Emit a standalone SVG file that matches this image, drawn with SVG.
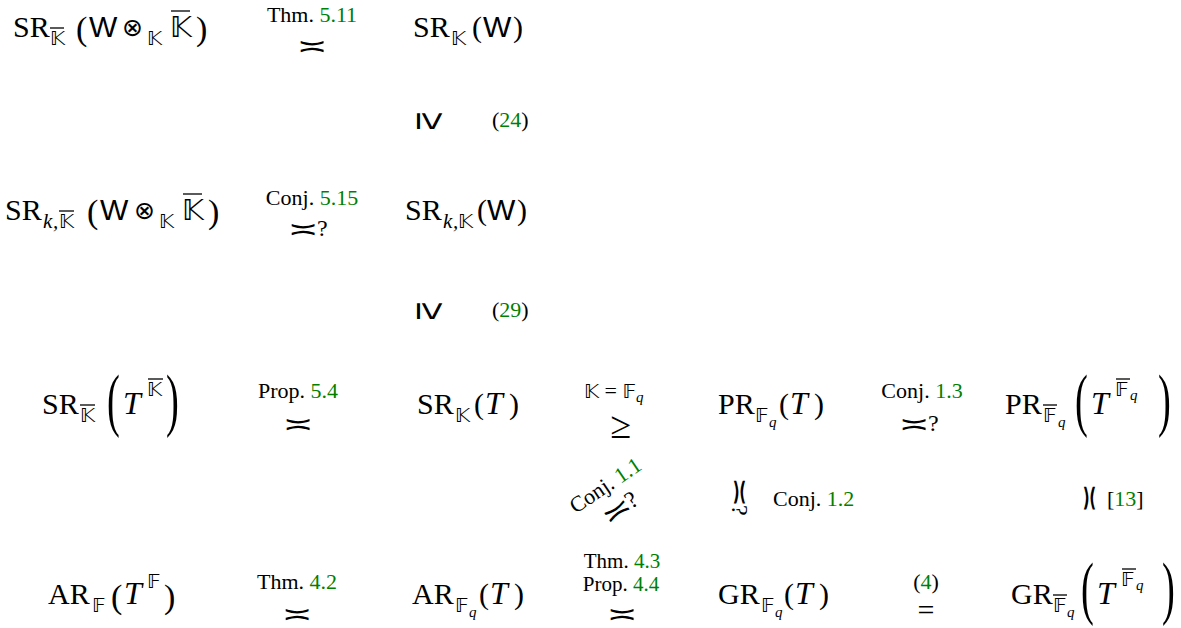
<svg xmlns="http://www.w3.org/2000/svg" width="1181" height="628" viewBox="0 0 1181 628">
<style>
text{fill:#000}
.m{font-family:"Liberation Serif",serif;font-size:30px}
.sf{font-family:"Liberation Sans",sans-serif;font-size:30px}
.bb{font-family:"DejaVu Sans",sans-serif;font-size:29px}
.sb{font-family:"DejaVu Sans",sans-serif;font-size:20px}
.si{font-family:"Liberation Serif",serif;font-size:21px;font-style:italic}
.qq{font-family:"Liberation Serif",serif;font-size:15px;font-style:italic}
.it{font-style:italic;font-size:32px}
.bp{font-family:"Liberation Serif",serif;font-size:70px}
.mp{font-family:"Liberation Serif",serif;font-size:34px}
.lab{font-family:"Liberation Serif",serif;font-size:22px}
.ref{font-family:"Liberation Serif",serif;font-size:22px}
.g{fill:#008000}
.rel{font-family:"DejaVu Sans",sans-serif;font-size:27px}
.geq{font-family:"Liberation Sans",sans-serif;font-size:42px}
.q{font-family:"Liberation Serif",serif;font-size:24px}
line{stroke:#000;stroke-width:1.3}
</style>
<defs>
<g id="asy"><text class="rel" text-anchor="middle" transform="scale(1.35,1)">≍</text></g>
<g id="geqr"><text class="geq" text-anchor="middle" y="13" transform="scale(0.78,1)">≥</text></g>
</defs>

<!-- Row 1 -->
<g id="n-srkbar-w">
<text class="m" x="13" y="37">SR</text>
<text class="sb" x="50" y="45">𝕂</text><line x1="50" y1="28" x2="64" y2="28"/>
<text class="mp" x="76" y="40">(</text>
<text class="sf" x="89" y="37">W</text>
<text class="bb" style="font-size:25px" x="122" y="36">⊗</text>
<text class="sb" x="147" y="45">𝕂</text>
<text class="bb" x="170" y="37">𝕂</text><line x1="171" y1="11" x2="190" y2="11"/>
<text class="mp" x="196" y="40">)</text>
</g>
<g id="n-srk-w">
<text class="m" x="413" y="37">SR</text>
<text class="sb" x="451" y="45">𝕂</text>
<text class="m" x="472" y="37">(</text>
<text class="sf" x="483" y="37">W</text>
<text class="m" x="513" y="37">)</text>
</g>

<!-- Row 2 -->
<g id="n-srkkbar-w">
<text class="m" x="5" y="220">SR</text>
<text class="si" x="43" y="228">k</text><text class="si" x="53" y="228">,</text>
<text class="sb" x="59" y="228">𝕂</text><line x1="59" y1="211" x2="74" y2="211"/>
<text class="mp" x="87" y="223">(</text>
<text class="sf" x="100" y="220">W</text>
<text class="bb" style="font-size:25px" x="134" y="219">⊗</text>
<text class="sb" x="159" y="228">𝕂</text>
<text class="bb" x="182" y="220">𝕂</text><line x1="183" y1="194" x2="202" y2="194"/>
<text class="mp" x="208" y="223">)</text>
</g>
<g id="n-srkk-w">
<text class="m" x="405" y="220">SR</text>
<text class="si" x="443" y="228">k</text><text class="si" x="453" y="228">,</text>
<text class="sb" x="458" y="228">𝕂</text>
<text class="m" x="477" y="220">(</text>
<text class="sf" x="487" y="220">W</text>
<text class="m" x="517" y="220">)</text>
</g>

<!-- Row 3 -->
<g id="n-srkbar-t">
<text class="m" x="42" y="414">SR</text>
<text class="sb" x="80" y="422">𝕂</text><line x1="80" y1="405" x2="95" y2="405"/>
<text class="bp" transform="translate(107,423) scale(0.55,1)">(</text>
<text class="m it" x="123" y="414">T</text>
<text class="sb" x="147" y="396">𝕂</text><line x1="148" y1="379" x2="163" y2="379"/>
<text class="bp" transform="translate(166,423) scale(0.55,1)">)</text>
</g>
<g id="n-srk-t">
<text class="m" x="417" y="414">SR</text>
<text class="sb" x="455" y="422">𝕂</text>
<text class="m" x="474" y="414">(</text>
<text class="m it" x="485" y="414">T</text>
<text class="m" x="509" y="414">)</text>
</g>
<g id="n-prfq-t">
<text class="m" x="718" y="414">PR</text>
<text class="sb" x="755" y="422">𝔽</text>
<text class="qq" x="769" y="427">q</text>
<text class="m" x="779" y="414">(</text>
<text class="m it" x="790" y="414">T</text>
<text class="m" x="814" y="414">)</text>
</g>
<g id="n-prfqbar-t">
<text class="m" x="1005" y="414">PR</text>
<text class="sb" x="1043" y="422">𝔽</text><line x1="1043" y1="405" x2="1057" y2="405"/>
<text class="qq" x="1058" y="427">q</text>
<text class="bp" transform="translate(1075,423) scale(0.55,1)">(</text>
<text class="m it" x="1091" y="414">T</text>
<text class="sb" x="1115" y="396">𝔽</text><line x1="1116" y1="379" x2="1130" y2="379"/>
<text class="qq" x="1130" y="400">q</text>
<text class="bp" transform="translate(1158,423) scale(0.55,1)">)</text>
</g>

<!-- Bottom row -->
<g id="n-arf-t">
<text class="m" x="48" y="604">AR</text>
<text class="sb" x="92" y="612">𝔽</text>
<text class="mp" x="111" y="608">(</text>
<text class="m it" x="124" y="604">T</text>
<text class="sb" x="147" y="588">𝔽</text>
<text class="mp" x="164" y="608">)</text>
</g>
<g id="n-arfq-t">
<text class="m" x="412" y="604">AR</text>
<text class="sb" x="455" y="612">𝔽</text>
<text class="qq" x="469" y="617">q</text>
<text class="m" x="479" y="604">(</text>
<text class="m it" x="490" y="604">T</text>
<text class="m" x="514" y="604">)</text>
</g>
<g id="n-grfq-t">
<text class="m" x="718" y="604">GR</text>
<text class="sb" x="761" y="612">𝔽</text>
<text class="qq" x="775" y="617">q</text>
<text class="m" x="784" y="604">(</text>
<text class="m it" x="795" y="604">T</text>
<text class="m" x="819" y="604">)</text>
</g>
<g id="n-grfqbar-t">
<text class="m" x="1011" y="604">GR</text>
<text class="sb" x="1053" y="612">𝔽</text><line x1="1053" y1="595" x2="1067" y2="595"/>
<text class="qq" x="1067" y="617">q</text>
<text class="bp" transform="translate(1081,611) scale(0.55,1)">(</text>
<text class="m it" x="1097" y="604">T</text>
<text class="sb" x="1121" y="586">𝔽</text><line x1="1122" y1="569" x2="1136" y2="569"/>
<text class="qq" x="1136" y="590">q</text>
<text class="bp" transform="translate(1162,611) scale(0.55,1)">)</text>
</g>

<!-- Connectors / relations -->
<g id="connectors">
<g id="r1">
<text class="lab" x="312" y="22" text-anchor="middle">Thm. <tspan class="g">5.11</tspan></text>
<use href="#asy" x="312" y="55"/>
</g>
<g id="r2">
<use href="#geqr" x="430" y="121" transform="rotate(90 430 121)"/>
<text class="ref" x="492" y="127">(<tspan class="g">24</tspan>)</text>
</g>
<g id="r3">
<text class="lab" x="312" y="205" text-anchor="middle">Conj. <tspan class="g">5.15</tspan></text>
<use href="#asy" x="303" y="238"/>
<text class="q" x="317" y="236">?</text>
</g>
<g id="r4">
<use href="#geqr" x="430" y="311" transform="rotate(90 430 311)"/>
<text class="ref" x="492" y="317">(<tspan class="g">29</tspan>)</text>
</g>
<g id="r5">
<text class="lab" x="298" y="398" text-anchor="middle">Prop. <tspan class="g">5.4</tspan></text>
<use href="#asy" x="298" y="433"/>
</g>
<g id="r6">
<text class="lab" x="584" y="398"><tspan class="sb">𝕂</tspan> = <tspan class="sb">𝔽</tspan><tspan class="qq" dy="4">q</tspan></text>
<text class="m" style="font-size:38px" x="621" y="438" text-anchor="middle">≥</text>
</g>
<g id="r7">
<text class="lab" x="922" y="398" text-anchor="middle">Conj. <tspan class="g">1.3</tspan></text>
<use href="#asy" x="914" y="433"/>
<text class="q" x="928" y="431">?</text>
</g>
<g id="r8" transform="translate(614,498) rotate(-34)">
<text class="lab" x="0" y="-8" text-anchor="middle">Conj. <tspan class="g">1.1</tspan></text>
<use href="#asy" x="-5" y="21"/>
<text class="q" x="8" y="19">?</text>
</g>
<g id="r9">
<g transform="translate(740,501) rotate(90)">
<use href="#asy" x="-9" y="9"/>
<text class="q" x="4" y="8">?</text>
</g>
<text class="lab" x="773" y="506">Conj. <tspan class="g">1.2</tspan></text>
</g>
<g id="r10">
<g transform="translate(1090,498) rotate(90)"><use href="#asy" x="0" y="9"/></g>
<text class="lab" x="1107" y="506">[<tspan class="g">13</tspan>]</text>
</g>
<g id="r11">
<text class="lab" x="297" y="589" text-anchor="middle">Thm. <tspan class="g">4.2</tspan></text>
<use href="#asy" x="297" y="623"/>
</g>
<g id="r12">
<text class="lab" style="font-size:21px" x="622" y="568" text-anchor="middle">Thm. <tspan class="g">4.3</tspan></text>
<text class="lab" style="font-size:21px" x="621" y="591" text-anchor="middle">Prop. <tspan class="g">4.4</tspan></text>
<use href="#asy" x="622" y="623"/>
</g>
<g id="r13">
<text class="ref" x="926" y="589" text-anchor="middle">(<tspan class="g">4</tspan>)</text>
<text class="m" x="926" y="620" text-anchor="middle">=</text>
</g>
</g>
</svg>
